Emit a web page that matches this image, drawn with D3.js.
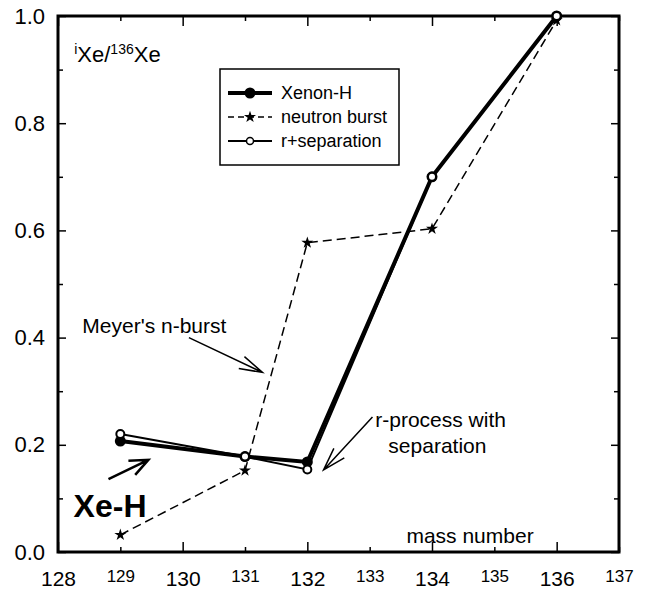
<!DOCTYPE html>
<html>
<head>
<meta charset="utf-8">
<script src="https://cdn.jsdelivr.net/npm/d3@7"></script>
<style>
  body { margin: 0; background: #fff; }
  svg { font-family: "Liberation Sans", Arial, sans-serif; }
</style>
</head>
<body>
<svg id="chart"></svg>
<script>
// isotope mass numbers and ratios iXe/136Xe
let massNumbers = [129, 131, 132, 134, 136];
let xenonH = [0.207, 0.178, 0.168, 0.70, 1.0];
let neutronBurst = [0.032, 0.152, 0.577, 0.603, 0.992];
let rSeparation = [0.22, 0.178, 0.154, 0.70, 1.0];

let xTickValues = [128, 129, 130, 131, 132, 133, 134, 135, 136, 137];
let yTickValues = [0, 0.1, 0.2, 0.3, 0.4, 0.5, 0.6, 0.7, 0.8, 0.9, 1.0];

let legendLabels = ["Xenon-H", "neutron burst", "r+separation"];

drawChart();

function drawChart() {
  let config = getConfig();
  let scales = getScales(config);
  drawAxes(scales, config);
  drawSeries(scales, config);
  drawLegend(config);
  drawNotes(scales, config);
}

function getConfig() {
  let width = 650;
  let height = 593;
  let margin = { top: 16, bottom: 41, left: 58, right: 31 };
  let bodyWidth = width - margin.left - margin.right;
  let bodyHeight = height - margin.top - margin.bottom;
  let container = d3.select("#chart").attr("width", width).attr("height", height);
  let body = container
    .append("g")
    .attr("transform", `translate(${margin.left},${margin.top})`);
  return { width, height, margin, bodyWidth, bodyHeight, container, body };
}

function getScales({ bodyWidth, bodyHeight }) {
  let xScale = d3.scaleLinear().domain([128, 137]).range([0, bodyWidth]);
  let yScale = d3.scaleLinear().domain([0, 1]).range([bodyHeight, 0]);
  return { xScale, yScale };
}

function styleAxis(g) {
  g.select(".domain").remove();
  g.selectAll(".tick line").attr("stroke", "#000").attr("stroke-width", 1.5);
  g.selectAll("text").attr("fill", "#000");
}

function drawAxes({ xScale, yScale }, { body, bodyWidth, bodyHeight }) {
  let isMajorX = (d) => d % 2 === 0;
  let isMajorY = (d) => Math.round(d * 10) % 2 === 0;
  let xMajor = xTickValues.filter(isMajorX);
  let xMinor = xTickValues.filter((d) => !isMajorX(d));
  let yMajor = yTickValues.filter(isMajorY);
  let yMinor = yTickValues.filter((d) => !isMajorY(d));

  // bottom axis, big labels on even numbers, small on odd
  body.append("g")
    .attr("transform", `translate(0,${bodyHeight})`)
    .call(d3.axisBottom(xScale).tickValues(xMajor).tickSize(-10).tickPadding(19).tickFormat(d3.format("d")))
    .call(styleAxis)
    .selectAll("text").style("font-size", "21px");
  body.append("g")
    .attr("transform", `translate(0,${bodyHeight})`)
    .call(d3.axisBottom(xScale).tickValues(xMinor).tickSize(-5).tickPadding(18).tickFormat(d3.format("d")))
    .call(styleAxis)
    .selectAll("text").style("font-size", "17px");

  // top axis, ticks only
  body.append("g")
    .call(d3.axisTop(xScale).tickValues(xMajor).tickSize(-10).tickFormat(""))
    .call(styleAxis);
  body.append("g")
    .call(d3.axisTop(xScale).tickValues(xMinor).tickSize(-5).tickFormat(""))
    .call(styleAxis);

  // left axis
  body.append("g")
    .call(d3.axisLeft(yScale).tickValues(yMajor).tickSize(-8).tickPadding(13).tickFormat(d3.format(".1f")))
    .call(styleAxis)
    .selectAll("text").style("font-size", "22px");
  body.append("g")
    .call(d3.axisLeft(yScale).tickValues(yMinor).tickSize(-5).tickFormat(""))
    .call(styleAxis);

  // right axis
  body.append("g")
    .attr("transform", `translate(${bodyWidth},0)`)
    .call(d3.axisRight(yScale).tickValues(yMajor).tickSize(-8).tickFormat(""))
    .call(styleAxis);
  body.append("g")
    .attr("transform", `translate(${bodyWidth},0)`)
    .call(d3.axisRight(yScale).tickValues(yMinor).tickSize(-5).tickFormat(""))
    .call(styleAxis);

  body.append("rect")
    .attr("width", bodyWidth)
    .attr("height", bodyHeight)
    .attr("fill", "none")
    .attr("stroke", "#000")
    .attr("stroke-width", 3);
}

function drawSeries({ xScale, yScale }, { body }) {
  let line = d3.line()
    .x((d) => xScale(d[0]))
    .y((d) => yScale(d[1]));

  let burst = d3.zip(massNumbers, neutronBurst);
  let xeH = d3.zip(massNumbers, xenonH);
  let rSep = d3.zip(massNumbers, rSeparation);

  body.append("path")
    .attr("d", line(burst))
    .attr("fill", "none")
    .attr("stroke", "#000")
    .attr("stroke-width", 1.5)
    .attr("stroke-dasharray", "9,5");

  body.append("path")
    .attr("d", line(xeH))
    .attr("fill", "none")
    .attr("stroke", "#000")
    .attr("stroke-width", 4);

  body.append("path")
    .attr("d", line(rSep))
    .attr("fill", "none")
    .attr("stroke", "#000")
    .attr("stroke-width", 2);

  let star = d3.symbol().type(d3.symbolStar).size(45);
  body.selectAll(".star")
    .data(burst)
    .enter()
    .append("path")
    .attr("class", "star")
    .attr("d", star)
    .attr("transform", (d) => `translate(${xScale(d[0])},${yScale(d[1])})`)
    .attr("fill", "#000");

  body.selectAll(".xeh")
    .data(xeH)
    .enter()
    .append("circle")
    .attr("class", "xeh")
    .attr("cx", (d) => xScale(d[0]))
    .attr("cy", (d) => yScale(d[1]))
    .attr("r", 5.5)
    .attr("fill", "#000");

  body.selectAll(".rsep")
    .data(rSep)
    .enter()
    .append("circle")
    .attr("class", "rsep")
    .attr("cx", (d) => xScale(d[0]))
    .attr("cy", (d) => yScale(d[1]))
    .attr("r", 4)
    .attr("fill", "#fff")
    .attr("stroke", "#000")
    .attr("stroke-width", 2);
}

function drawLegend({ container }) {
  let legend = container.append("g").attr("transform", "translate(220,69)");
  legend.append("rect")
    .attr("width", 179)
    .attr("height", 96)
    .attr("fill", "#fff")
    .attr("stroke", "#000")
    .attr("stroke-width", 1.5);

  let rows = legend.selectAll(".row")
    .data(legendLabels)
    .enter()
    .append("g")
    .attr("class", "row")
    .attr("transform", (d, i) => `translate(0,${24 + i * 24})`);

  rows.append("line")
    .attr("x1", 8).attr("x2", 52)
    .attr("stroke", "#000")
    .attr("stroke-width", (d, i) => [4, 1.5, 2][i])
    .attr("stroke-dasharray", (d, i) => (i === 1 ? "6,4" : null));

  rows.filter((d, i) => i === 0).append("circle")
    .attr("cx", 30).attr("r", 5.5).attr("fill", "#000");
  rows.filter((d, i) => i === 1).append("path")
    .attr("d", d3.symbol().type(d3.symbolStar).size(45))
    .attr("transform", "translate(30,0)")
    .attr("fill", "#000");
  rows.filter((d, i) => i === 2).append("circle")
    .attr("cx", 30).attr("r", 3.5).attr("fill", "#fff")
    .attr("stroke", "#000").attr("stroke-width", 1.5);

  rows.append("text")
    .attr("x", 61)
    .attr("dy", "0.35em")
    .style("font-size", "18px")
    .text((d) => d);
}

function drawArrow(g, from, to, headLen, headAngle, width) {
  let ang = Math.atan2(to[1] - from[1], to[0] - from[0]);
  let p = (a) => [to[0] - headLen * Math.cos(ang + a), to[1] - headLen * Math.sin(ang + a)];
  let h1 = p(headAngle);
  let h2 = p(-headAngle);
  g.append("path")
    .attr("d", `M${from}L${to}M${h1}L${to}L${h2}`)
    .attr("fill", "none")
    .attr("stroke", "#000")
    .attr("stroke-width", width);
}

function drawNotes({ xScale, yScale }, { body }) {
  let at = (m, v) => [xScale(m), yScale(v)];
  let note = (m, v, text, size, weight) =>
    body.append("text")
      .attr("x", xScale(m))
      .attr("y", yScale(v))
      .style("font-size", size + "px")
      .style("font-weight", weight || "normal")
      .text(text);

  // y label  iXe/136Xe
  let yl = body.append("text")
    .attr("x", xScale(128.26))
    .attr("y", yScale(0.914))
    .style("font-size", "22px");
  yl.append("tspan").attr("dy", "-8").style("font-size", "14px").text("i");
  yl.append("tspan").attr("dy", "8").text("Xe/");
  yl.append("tspan").attr("dy", "-8").style("font-size", "14px").text("136");
  yl.append("tspan").attr("dy", "8").text("Xe");

  note(128.39, 0.409, "Meyer's n-burst", 21);
  drawArrow(body, at(130.1, 0.4), at(131.28, 0.335), 24, 0.28, 1.5);

  note(133.09, 0.234, "r-process with", 21);
  note(133.3, 0.185, "separation", 21);
  drawArrow(body, at(133.045, 0.252), at(132.26, 0.153), 24, 0.3, 1.5);

  note(128.25, 0.065, "Xe-H", 32, "bold");
  drawArrow(body, at(128.81, 0.136), at(129.45, 0.172), 20, 0.4, 2.5);

  note(133.59, 0.017, "mass number", 21);
}
</script>
</body>
</html>
